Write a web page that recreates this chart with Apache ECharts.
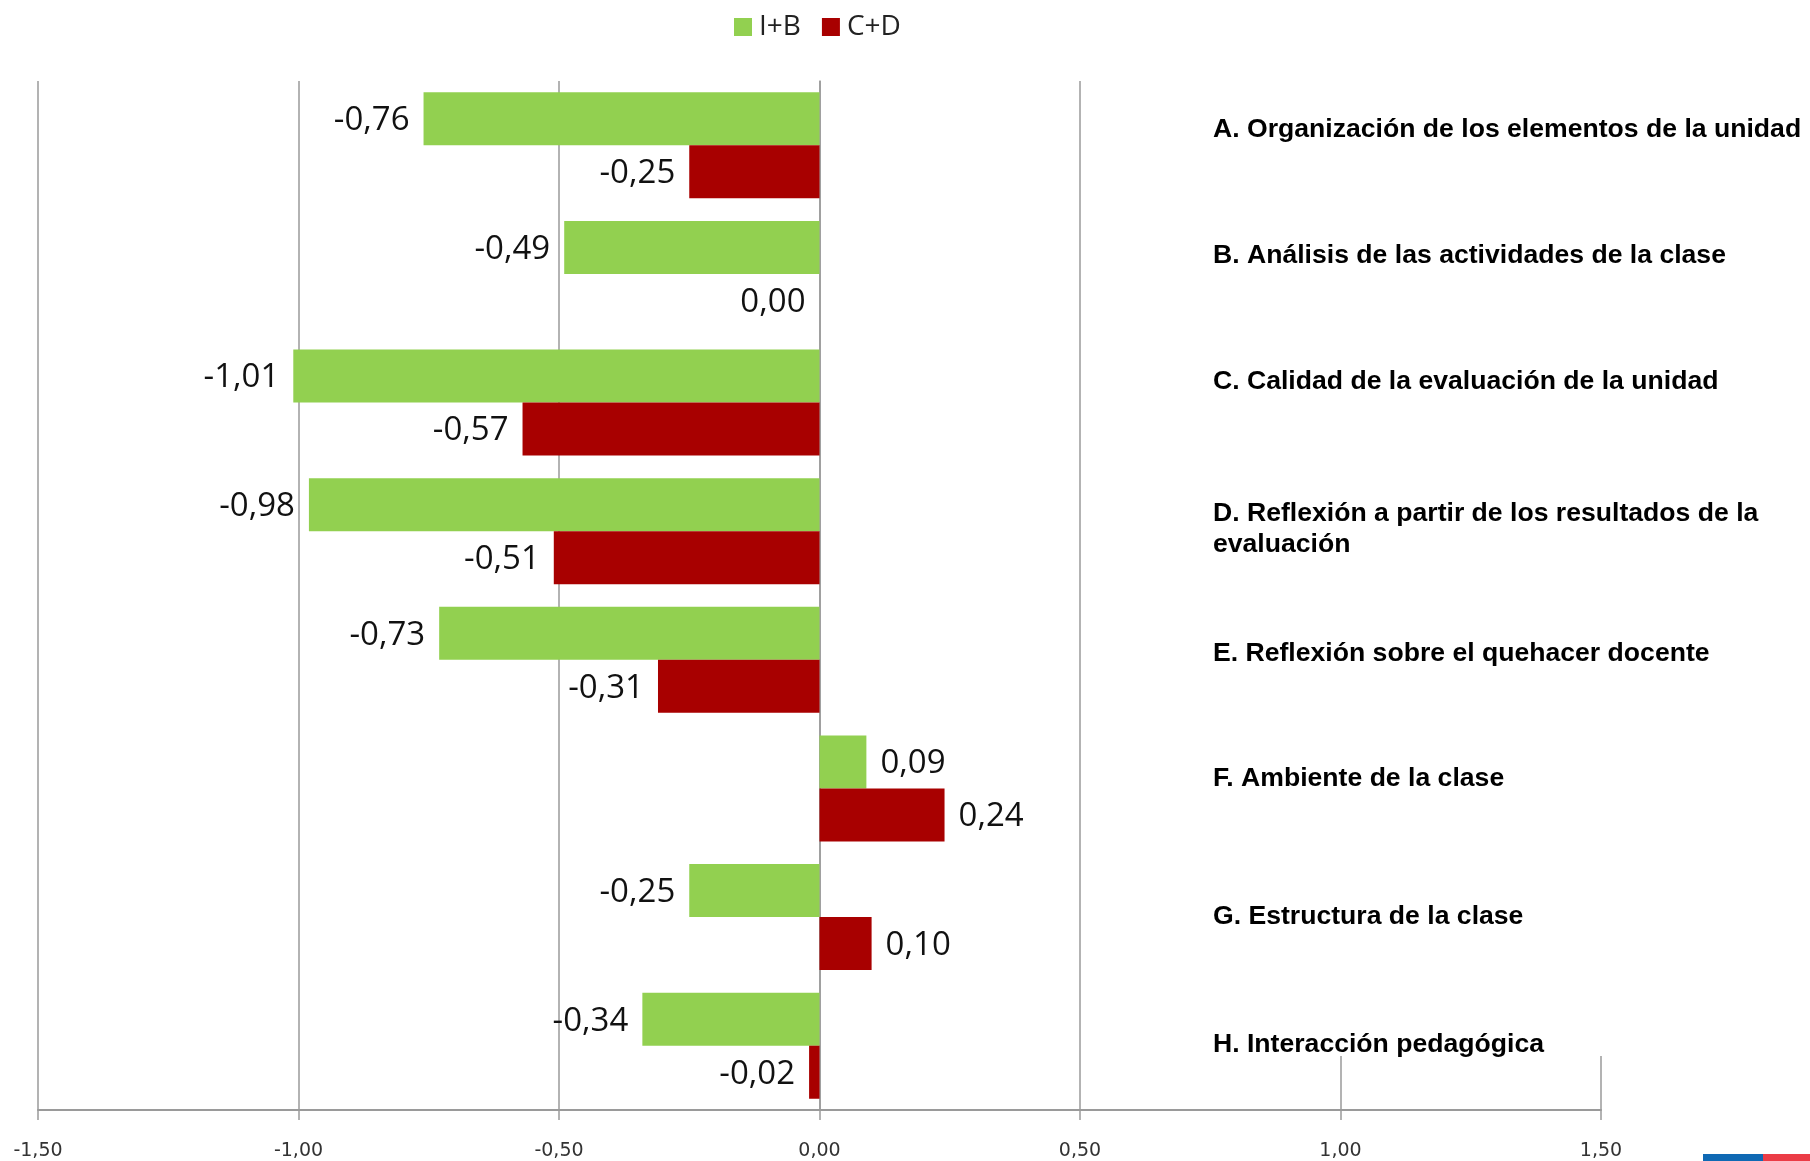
<!DOCTYPE html>
<html>
<head>
<meta charset="utf-8">
<script src="https://cdn.jsdelivr.net/npm/echarts@6/dist/echarts.min.js"></script>
<style>
  html, body { margin: 0; padding: 0; background: #fff; }
  #chart { width: 1810px; height: 1161px; }
</style>
</head>
<body>
<div id="chart"></div>
<script>
// Dimensiones evaluadas (de arriba hacia abajo)
const categories = [
  'A. Organización de los elementos de la unidad',
  'B. Análisis de las actividades de la clase',
  'C. Calidad de la evaluación de la unidad',
  'D. Reflexión a partir de los resultados de la\nevaluación',
  'E. Reflexión sobre el quehacer docente',
  'F. Ambiente de la clase',
  'G. Estructura de la clase',
  'H. Interacción pedagógica'
];

const seriesNames = ['I+B', 'C+D'];
const valuesIB = [-0.76, -0.49, -1.01, -0.98, -0.73, 0.09, -0.25, -0.34];
const valuesCD = [-0.25, 0.00, -0.57, -0.51, -0.31, 0.24, 0.10, -0.02];

const axisMin = -1.5;
const axisMax = 1.5;
const axisStep = 0.5;

// Desplazamiento vertical de cada rótulo de dimensión (px hacia arriba)
const labelLift = [16, 18, 21, 2, 6, 10, 0, 1];

const fmt = v => v.toFixed(2).replace('.', ',').replace('-0,00', '0,00');

const GRID_LEFT = 38, GRID_RIGHT = 209, GRID_TOP = 81, GRID_BOTTOM = 51;
const LABEL_X = 1213;
const gridRightX = 1810 - GRID_RIGHT;

function barData(vals) {
  return vals.map(v => ({
    value: v,
    label: { position: v > 0 ? 'right' : 'left' }
  }));
}

const rich = {};
labelLift.forEach((d, i) => {
  rich['c' + i] = {
    fontFamily: '"Liberation Sans", Arial, sans-serif',
    fontWeight: 'bold',
    fontSize: 26.6,
    lineHeight: 31,
    color: '#000',
    padding: [0, 0, 2 * d, 0]
  };
});

const barLabel = {
  show: true,
  distance: 14,
  offset: [0, 2],
  formatter: p => fmt(p.value),
  fontFamily: '"Open Sans", sans-serif',
  fontSize: 33,
  color: '#111'
};

const chart = echarts.init(document.getElementById('chart'), null, { renderer: 'canvas' });

chart.setOption({
  animation: false,
  backgroundColor: '#fff',
  legend: {
    data: seriesNames,
    left: 729,
    top: 8,
    itemWidth: 18,
    itemHeight: 18,
    itemGap: 21,
    icon: 'rect',
    textStyle: { fontFamily: '"Open Sans", sans-serif', fontSize: 28, color: '#222', padding: [0, 0, 0, 2] }
  },
  grid: { left: GRID_LEFT, right: GRID_RIGHT, top: GRID_TOP, bottom: GRID_BOTTOM, containLabel: false },
  xAxis: {
    type: 'value',
    min: axisMin,
    max: axisMax,
    interval: axisStep,
    axisLine: { show: true, onZero: false, lineStyle: { color: '#9a9a9a', width: 2 } },
    axisTick: { show: true, length: 10, lineStyle: { color: '#9a9a9a', width: 1.5 } },
    splitLine: { show: true, lineStyle: { color: '#9a9a9a', width: 1.5 } },
    axisLabel: {
      margin: 32,
      formatter: fmt,
      fontFamily: '"DejaVu Sans", sans-serif',
      fontSize: 19,
      color: '#333'
    }
  },
  yAxis: [
    {
      type: 'category',
      data: categories,
      inverse: true,
      axisLine: { show: true, onZero: true, lineStyle: { color: '#9a9a9a', width: 1.5 } },
      axisTick: { show: false },
      axisLabel: { show: false },
      splitLine: { show: false }
    },
    {
      type: 'category',
      data: categories,
      inverse: true,
      position: 'right',
      offset: -(gridRightX - LABEL_X),
      z: 3,
      axisLine: { show: false },
      axisTick: { show: false },
      splitLine: { show: false },
      axisLabel: {
        margin: 0,
        align: 'left',
        formatter: (val, idx) => '{c' + idx + '|' + val + '}',
        rich: rich
      }
    }
  ],
  graphic: [
    {
      type: 'rect',
      z: 1,
      shape: { x: 1190, y: 0, width: 620, height: 1056 },
      style: { fill: '#fff' },
      silent: true
    },
    {
      type: 'rect',
      z: 1,
      shape: { x: 1703, y: 1154, width: 60, height: 7 },
      style: { fill: '#0F69B4' },
      silent: true
    },
    {
      type: 'rect',
      z: 1,
      shape: { x: 1763, y: 1154, width: 47, height: 7 },
      style: { fill: '#EB3C46' },
      silent: true
    }
  ],
  series: [
    {
      name: seriesNames[0],
      type: 'bar',
      data: barData(valuesIB),
      itemStyle: { color: '#92D050' },
      barGap: '0%',
      barCategoryGap: '17.5%',
      z: 4,
      label: barLabel
    },
    {
      name: seriesNames[1],
      type: 'bar',
      data: barData(valuesCD),
      itemStyle: { color: '#A80000' },
      barGap: '0%',
      barCategoryGap: '17.5%',
      z: 4,
      label: barLabel
    }
  ]
});
</script>
</body>
</html>
